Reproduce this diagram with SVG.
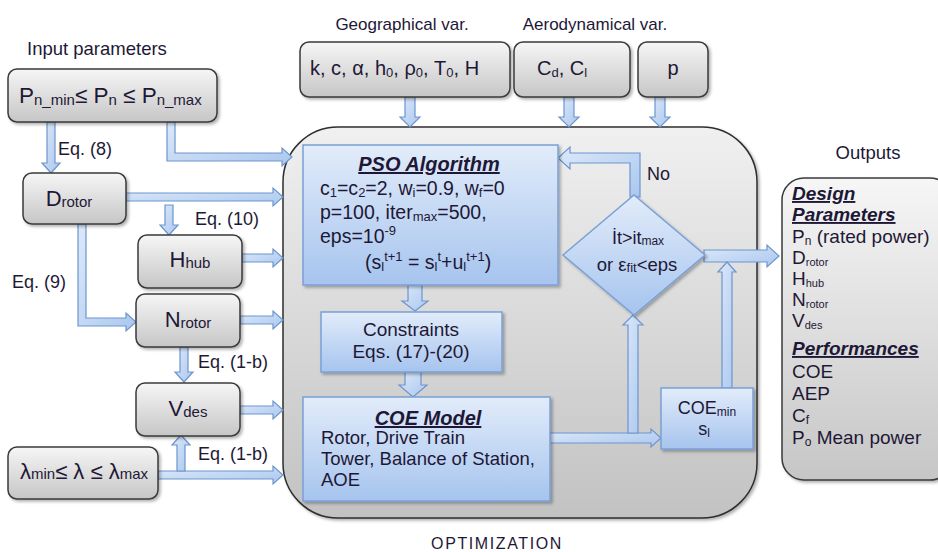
<svg xmlns="http://www.w3.org/2000/svg" width="938" height="552" viewBox="0 0 938 552">
<defs>
<linearGradient id="gGray" x1="0" y1="0" x2="0" y2="1"><stop offset="0" stop-color="#f6f6f6"/><stop offset="1" stop-color="#c6c6c6"/></linearGradient>
<linearGradient id="gMain" x1="0" y1="0" x2="0" y2="1"><stop offset="0" stop-color="#f0f0f0"/><stop offset="1" stop-color="#c2c2c2"/></linearGradient>
<linearGradient id="gBlue" x1="0" y1="0" x2="0" y2="1"><stop offset="0" stop-color="#e2ecfa"/><stop offset="1" stop-color="#a6c4ee"/></linearGradient>
<linearGradient id="gArr" x1="0" y1="0" x2="1" y2="1"><stop offset="0" stop-color="#dde9f9"/><stop offset="1" stop-color="#aac7ef"/></linearGradient>
<filter id="sh" x="-10%" y="-10%" width="130%" height="130%"><feDropShadow dx="2" dy="2" stdDeviation="1.5" flood-color="#000" flood-opacity="0.3"/></filter>
</defs>
<style>
text{font-family:"Liberation Sans",Arial,sans-serif;fill:#1e1836}
.gray{fill:url(#gGray);stroke:#3a3a3a;stroke-width:1.5}
.blue{fill:url(#gBlue);stroke:#7aa0d6;stroke-width:1.5}
.arr{fill:url(#gArr);stroke:#6d95cd;stroke-width:1.2;stroke-linejoin:miter}
.eq{font-size:18px}
.ttl{font-size:17px}
.b19{font-size:19px}
.b20{font-size:19.5px}
.t19{font-size:19px}
.hd{font-weight:bold;font-style:italic;text-decoration:underline}
</style>
<rect width="938" height="552" fill="#ffffff"/>

<g id="main">
<rect x="283" y="127" width="474" height="391" rx="55" fill="url(#gMain)" stroke="#2e2e2e" stroke-width="1.5" filter="url(#sh)"/>
</g>

<text x="27" y="55" style="font-size:18.5px">Input parameters</text>
<text class="ttl" x="402" y="30" text-anchor="middle">Geographical var.</text>
<text class="ttl" x="595" y="30" text-anchor="middle">Aerodynamical var.</text>
<text x="868" y="159" text-anchor="middle" style="font-size:18.5px">Outputs</text>
<text x="497" y="549" text-anchor="middle" style="font-size:16px;letter-spacing:1.6px">OPTIMIZATION</text>

<g id="connectors">
<polygon class="arr" points="47,122 55,122 55,163 60,163 51,173 42,163 47,163"/>
<polygon class="arr" points="167,122 175,122 175,153 282,153 282,148 292,157 282,166 282,161 167,161"/>
<polygon class="arr" points="126,193 273,193 273,188 283,197 273,206 273,201 126,201"/>
<polygon class="arr" points="165,205 173,205 173,225 178,225 169,235 160,225 165,225"/>
<polygon class="arr" points="78,224 86,224 86,318 126,318 126,313 136,322 126,331 126,326 78,326"/>
<polygon class="arr" points="242,254 273,254 273,249 283,258 273,267 273,262 242,262"/>
<polygon class="arr" points="240,316 273,316 273,311 283,320 273,329 273,324 240,324"/>
<polygon class="arr" points="180,347 188,347 188,372 193,372 184,382 175,372 180,372"/>
<polygon class="arr" points="240,406 273,406 273,401 283,410 273,419 273,414 240,414"/>
<polygon class="arr" points="158,471 273,471 273,466 283,475 273,484 273,479 158,479"/>
<polygon class="arr" points="177,471 185,471 185,445 190,445 181,435 172,445 177,445"/>
<polygon class="arr" points="405,97 415,97 415,117 420,117 410,127 400,117 405,117"/>
<polygon class="arr" points="564,97 574,97 574,117 579,117 569,127 559,117 564,117"/>
<polygon class="arr" points="655,97 665,97 665,117 670,117 660,127 650,117 655,117"/>
<polygon class="arr" points="408,285 422,285 422,301 428,301 415,311 402,301 408,301"/>
<polygon class="arr" points="405,372 421,372 421,385 427,385 413,397 399,385 405,385"/>
<polygon class="arr" points="550,433 651,433 651,429 661,438 651,447 651,443 550,443"/>
<polygon class="arr" points="628,433 638,433 638,325 643,325 633,315 623,325 628,325"/>
<polygon class="arr" points="704,250 767,250 767,245 779,256 767,267 767,262 704,262"/>
<polygon class="arr" points="722,388 732,388 732,272 736,272 727,262 718,272 722,272"/>
<polygon class="arr" points="630,197 640,197 640,153 570,153 570,147 558,158 570,169 570,163 630,163"/>
<text class="eq" x="58" y="155">Eq. (8)</text>
<text class="eq" x="195" y="225">Eq. (10)</text>
<text class="eq" x="12" y="288">Eq. (9)</text>
<text class="eq" x="198" y="368">Eq. (1-b)</text>
<text class="eq" x="198" y="460">Eq. (1-b)</text>
<text x="647" y="180" style="font-size:18px">No</text>
</g>

<g id="n-pn">
<rect class="gray" x="8" y="69" width="209" height="53" rx="9" filter="url(#sh)"/>
<text x="19" y="103" style="font-size:22.5px">P<tspan font-size="15" dy="2">n_min</tspan><tspan dy="-2">≤ P</tspan><tspan font-size="15" dy="2">n</tspan><tspan dy="-2"> ≤ P</tspan><tspan font-size="15" dy="2">n_max</tspan></text>
</g>

<g id="n-drotor">
<rect class="gray" x="23" y="173" width="103" height="51" rx="9" filter="url(#sh)"/>
<text x="69" y="206" text-anchor="middle" style="font-size:22px">D<tspan font-size="15" dy="1">rotor</tspan></text>
</g>

<g id="n-hhub">
<rect class="gray" x="138" y="235" width="104" height="53" rx="9" filter="url(#sh)"/>
<text x="190" y="267" text-anchor="middle" style="font-size:22px">H<tspan font-size="15" dy="1">hub</tspan></text>
</g>

<g id="n-nrotor">
<rect class="gray" x="136" y="294" width="104" height="53" rx="9" filter="url(#sh)"/>
<text x="188" y="327" text-anchor="middle" style="font-size:22px">N<tspan font-size="15" dy="1">rotor</tspan></text>
</g>

<g id="n-vdes">
<rect class="gray" x="136" y="383" width="104" height="53" rx="9" filter="url(#sh)"/>
<text x="188" y="416" text-anchor="middle" style="font-size:22px">V<tspan font-size="15" dy="1">des</tspan></text>
</g>

<g id="n-lambda">
<rect class="gray" x="8" y="447" width="150" height="52" rx="9" filter="url(#sh)"/>
<text x="20" y="479" style="font-size:22px">λ<tspan font-size="15">min</tspan><tspan>≤ λ ≤ λ</tspan><tspan font-size="15">max</tspan></text>
</g>

<g id="n-geo">
<rect class="gray" x="300" y="42" width="210" height="55" rx="9" filter="url(#sh)"/>
<text x="310" y="75" style="font-size:20px">k, c, α, h<tspan font-size="13" dy="2">0</tspan><tspan dy="-2">, ρ</tspan><tspan font-size="13" dy="2">0</tspan><tspan dy="-2">, T</tspan><tspan font-size="13" dy="2">0</tspan><tspan dy="-2">, H</tspan></text>
</g>

<g id="n-aero">
<rect class="gray" x="514" y="42" width="116" height="55" rx="9" filter="url(#sh)"/>
<text x="537" y="75" style="font-size:20px">C<tspan font-size="13" dy="2">d</tspan><tspan dy="-2">, C</tspan><tspan font-size="13" dy="2">l</tspan></text>
</g>

<g id="n-p">
<rect class="gray" x="638" y="42" width="70" height="55" rx="9" filter="url(#sh)"/>
<text x="673" y="75" text-anchor="middle" style="font-size:20px">p</text>
</g>

<g id="n-pso">
<rect class="blue" x="303" y="145" width="255" height="140" filter="url(#sh)"/>
<text x="429" y="171" class="hd" text-anchor="middle" style="font-size:20px">PSO Algorithm</text>
<text x="320" y="195" class="b20">c<tspan font-size="13" dy="2">1</tspan><tspan dy="-2">=c</tspan><tspan font-size="13" dy="2">2</tspan><tspan dy="-2">=2, w</tspan><tspan font-size="13" dy="2">i</tspan><tspan dy="-2">=0.9, w</tspan><tspan font-size="13" dy="2">f</tspan><tspan dy="-2">=0</tspan></text>
<text x="320" y="219" class="b20">p=100, iter<tspan font-size="13" dy="2">max</tspan><tspan dy="-2">=500,</tspan></text>
<text x="320" y="243" class="b20">eps=10<tspan font-size="13" dy="-8">-9</tspan></text>
<text x="365" y="269" class="b20">(s<tspan font-size="13" dy="2">l</tspan><tspan font-size="13" dy="-10">t+1</tspan><tspan dy="8"> = s</tspan><tspan font-size="13" dy="2">l</tspan><tspan font-size="13" dy="-10">t</tspan><tspan dy="8">+u</tspan><tspan font-size="13" dy="2">l</tspan><tspan font-size="13" dy="-10">t+1</tspan><tspan dy="8">)</tspan></text>
</g>

<g id="n-constraints">
<rect class="blue" x="321" y="312" width="181" height="60" filter="url(#sh)"/>
<text x="411" y="336" class="b19" text-anchor="middle">Constraints</text>
<text x="411" y="358" class="b19" text-anchor="middle">Eqs. (17)-(20)</text>
</g>

<g id="n-coe">
<rect class="blue" x="303" y="397" width="247" height="104" filter="url(#sh)"/>
<text x="428" y="425" class="hd" text-anchor="middle" style="font-size:20px">COE Model</text>
<text x="321" y="444" style="font-size:18.5px">Rotor, Drive Train</text>
<text x="321" y="465" style="font-size:18.5px">Tower, Balance of Station,</text>
<text x="321" y="486" style="font-size:18.5px">AOE</text>
</g>

<g id="n-decision">
<polygon class="blue" points="634,195 705,255 634,315 563,255" filter="url(#sh)"/>
<text x="638" y="244" text-anchor="middle" style="font-size:18px">İt&gt;it<tspan font-size="12" dy="1">max</tspan></text>
<text x="637" y="271" text-anchor="middle" style="font-size:18.5px">or ε<tspan font-size="13" dy="1">fit</tspan><tspan dy="-1">&lt;eps</tspan></text>
</g>

<g id="n-coemin">
<rect class="blue" x="661" y="388" width="92" height="61" filter="url(#sh)"/>
<text x="707" y="414" text-anchor="middle" style="font-size:18px">COE<tspan font-size="12" dy="2">min</tspan></text>
<text x="704" y="435" text-anchor="middle" style="font-size:18px">s<tspan font-size="12" dy="2">l</tspan></text>
</g>

<g id="n-outputs">
<rect class="gray" x="782" y="178" width="170" height="302" rx="22" filter="url(#sh)"/>
<text x="792" y="200" class="hd" style="font-size:19px">Design</text>
<text x="792" y="221" class="hd" style="font-size:19px">Parameters</text>
<text x="792" y="243" class="t19">P<tspan font-size="12" dy="2">n</tspan><tspan dy="-2"> (rated power)</tspan></text>
<text x="792" y="264" class="t19">D<tspan font-size="11" dy="2">rotor</tspan></text>
<text x="792" y="285" class="t19">H<tspan font-size="11" dy="2">hub</tspan></text>
<text x="792" y="306" class="t19">N<tspan font-size="11" dy="2">rotor</tspan></text>
<text x="792" y="327" class="t19">V<tspan font-size="11" dy="2">des</tspan></text>
<text x="792" y="355" class="hd" style="font-size:19px">Performances</text>
<text x="792" y="378" class="t19">COE</text>
<text x="792" y="400" class="t19">AEP</text>
<text x="792" y="422" class="t19">C<tspan font-size="12" dy="2">f</tspan></text>
<text x="792" y="444" class="t19">P<tspan font-size="12" dy="2">o</tspan><tspan dy="-2"> Mean power</tspan></text>
</g>
</svg>
